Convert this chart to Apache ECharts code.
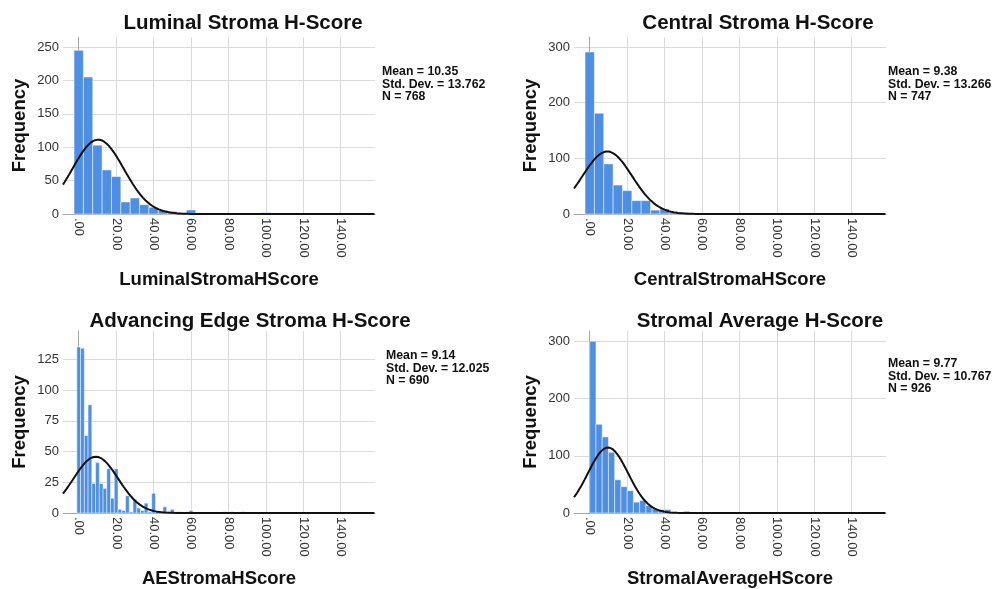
<!DOCTYPE html>
<html>
<head>
<meta charset="utf-8">
<title>Stroma H-Score histograms</title>
<script src="https://cdn.jsdelivr.net/npm/echarts@6/dist/echarts.min.js"></script>
<style>
  html, body { margin: 0; padding: 0; background: #ffffff; }
  #chart { width: 1003px; height: 589px; }
</style>
</head>
<body>
<div id="chart"></div>
<script>
// Panel titles and variable names
const panelTitles = ['Luminal Stroma H-Score', 'Central Stroma H-Score', 'Advancing Edge Stroma H-Score', 'Stromal Average H-Score'];
const variableNames = ['LuminalStromaHScore', 'CentralStromaHScore', 'AEStromaHScore', 'StromalAverageHScore'];

// Summary statistics per panel
const means = [10.35, 9.38, 9.14, 9.77];
const stdDevs = [13.762, 13.266, 12.025, 10.767];
const counts = [768, 747, 690, 926];

// Histogram bins: first lower edge, bin width, frequencies
const binStarts = [-2.5, -2.5, -1, 0];
const binWidths = [5, 5, 2, 10 / 3];
const luminalFreq = [245, 205, 103, 66, 56, 18, 24, 14, 10, 5, 4, 0, 6, 0, 0, 0, 0, 0, 0, 0, 2];
const centralFreq = [291, 181, 90, 52, 42, 24, 24, 7, 9, 3, 3];
const aeFreq = [135, 134, 63, 88, 24, 41, 24, 20, 36, 12, 36, 3, 2, 14, 1, 11, 4, 2, 8, 1, 16, 1, 0, 5, 1, 3, 1, 1, 0, 1, 2, 0, 0, 0, 0, 0, 0, 0, 0, 1, 0, 1, 0, 0, 1];
const averageFreq = [300, 155, 133, 106, 58, 46, 39, 19, 22, 13, 7, 6, 6, 1, 1, 3];
const frequencies = [luminalFreq, centralFreq, aeFreq, averageFreq];

// Axis ticks
const xTicks = [0, 20, 40, 60, 80, 100, 120, 140];
const xTickLabels = ['.00', '20.00', '40.00', '60.00', '80.00', '100.00', '120.00', '140.00'];
const yTicksList = [
  [0, 50, 100, 150, 200, 250],
  [0, 100, 200, 300],
  [0, 25, 50, 75, 100, 125],
  [0, 100, 200, 300]
];

const FONT = '"Liberation Sans", Arial, Helvetica, sans-serif';
const BAR_COLOR = '#4e8fe4';
const X_MIN = -8.4, X_MAX = 158.3;
const yMaxes = [265, 318, 148, 318];

const grids = [
  { left: 63, top: 37, width: 312, height: 177 },
  { left: 574, top: 37, width: 312, height: 177 },
  { left: 63, top: 331, width: 312, height: 183 },
  { left: 574, top: 331, width: 312, height: 183 }
];

// Expected frequency of the fitted normal curve, scaled to the bin width
function normalCurve(mean, sd, n, width) {
  const pts = [];
  for (let x = X_MIN; x <= X_MAX + 1e-9; x += 0.4) {
    const z = (x - mean) / sd;
    pts.push([x, n * width * Math.exp(-0.5 * z * z) / (sd * Math.sqrt(2 * Math.PI))]);
  }
  return pts;
}

function binData(i) {
  const out = [];
  frequencies[i].forEach((f, k) => {
    if (f > 0) {
      const lo = binStarts[i] + k * binWidths[i];
      out.push([lo, lo + binWidths[i], f]);
    }
  });
  return out;
}

function renderBar(params, api) {
  const p0 = api.coord([api.value(0), api.value(2)]);
  const p1 = api.coord([api.value(1), 0]);
  return {
    type: 'rect',
    shape: { x: p0[0], y: p0[1], width: p1[0] - p0[0], height: p1[1] - p0[1] },
    style: { fill: BAR_COLOR, stroke: 'rgba(255,255,255,0.6)', lineWidth: 0.8 }
  };
}

const xAxes = [], yAxes = [], series = [];
for (let i = 0; i < 4; i++) {
  xAxes.push({
    gridIndex: i, type: 'value', min: X_MIN, max: X_MAX,
    axisLine: { show: true, onZero: false, lineStyle: { color: '#a6a6a6', width: 1 } },
    axisTick: { show: false, customValues: xTicks },
    axisLabel: {
      customValues: xTicks, rotate: -90, margin: 4,
      formatter: v => xTickLabels[xTicks.indexOf(v)],
      color: '#333', fontSize: 13, fontFamily: FONT
    },
    splitLine: { show: true, lineStyle: { color: '#dadada', width: 1 } },
    name: variableNames[i], nameLocation: 'middle', nameGap: 56,
    nameTextStyle: { fontWeight: 'bold', fontSize: 18.5, color: '#111', fontFamily: FONT }
  });
  yAxes.push({
    gridIndex: i, type: 'value', min: 0, max: yMaxes[i],
    axisLine: { show: true, lineStyle: { color: '#a6a6a6', width: 1 } },
    axisTick: { show: false, customValues: yTicksList[i] },
    axisLabel: { customValues: yTicksList[i], margin: 4, color: '#333', fontSize: 13, fontFamily: FONT },
    splitLine: { show: true, lineStyle: { color: '#dadada', width: 1 } },
    name: 'Frequency', nameLocation: 'middle', nameGap: 34, nameRotate: 90,
    nameTextStyle: { fontWeight: 'bold', fontSize: 18.5, color: '#111', fontFamily: FONT }
  });
  series.push({
    type: 'custom', xAxisIndex: i, yAxisIndex: i,
    renderItem: renderBar,
    encode: { x: [0, 1], y: 2 },
    data: binData(i), z: 2
  });
  series.push({
    type: 'line', xAxisIndex: i, yAxisIndex: i,
    data: normalCurve(means[i], stdDevs[i], counts[i], binWidths[i]),
    showSymbol: false, symbol: 'none', smooth: false, clip: true,
    lineStyle: { color: '#111', width: 2 }, z: 3
  });
}

// Titles and statistics boxes
const titlePos = [[243, 23], [758, 23], [250, 321], [760, 321]];
const statPos = [[382, 72], [888, 72], [386, 356], [888, 364]];
const graphics = [];
for (let i = 0; i < 4; i++) {
  graphics.push({
    type: 'text', x: titlePos[i][0], y: titlePos[i][1],
    style: {
      text: panelTitles[i], fill: '#111',
      font: 'bold 20.5px ' + FONT,
      align: 'center', verticalAlign: 'middle',
      textAlign: 'center', textVerticalAlign: 'middle'
    }
  });
  const lines = ['Mean = ' + means[i].toFixed(2), 'Std. Dev. = ' + stdDevs[i].toFixed(3), 'N = ' + counts[i]];
  lines.forEach((t, k) => {
    graphics.push({
      type: 'text', x: statPos[i][0], y: statPos[i][1] + k * 12.2,
      style: {
        text: t, fill: '#111', font: 'bold 12.3px ' + FONT,
        align: 'left', verticalAlign: 'middle',
        textAlign: 'left', textVerticalAlign: 'middle'
      }
    });
  });
}

const chart = echarts.init(document.getElementById('chart'), null, { renderer: 'canvas' });
chart.setOption({
  animation: false,
  backgroundColor: '#ffffff',
  grid: grids,
  xAxis: xAxes,
  yAxis: yAxes,
  series: series,
  graphic: graphics
});
</script>
</body>
</html>
